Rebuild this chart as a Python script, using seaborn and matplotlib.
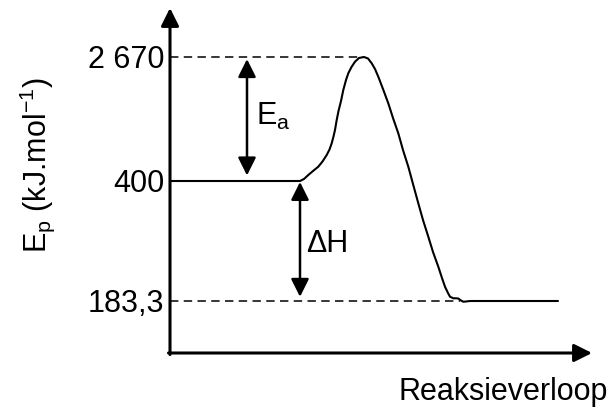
import numpy as np
import pandas as pd
import matplotlib
matplotlib.use("Agg")
import matplotlib.pyplot as plt
import seaborn as sns

# ---------------- data ----------------
level_values = [183.3, 400, 2670]
level_labels = ["183,3", "400", "2 670"]

# reaction progress (arbitrary units) and potential energy (kJ/mol)
progress = [0.00, 1.30, 1.34, 1.383, 1.43, 1.483, 1.525, 1.567, 1.595, 1.617, 1.635,
            1.65, 1.667, 1.685, 1.71, 1.733, 1.76, 1.783, 1.815, 1.85, 1.89, 1.94,
            1.98, 2.017, 2.05, 2.083, 2.13, 2.183, 2.23, 2.283, 2.33, 2.383, 2.43,
            2.483, 2.53, 2.583, 2.63, 2.683, 2.72, 2.75, 2.78, 2.80, 2.833,
            2.86, 2.883, 2.91, 2.933, 2.96, 3.00, 3.88]
energy = [400, 400, 437, 510, 583, 662, 757, 876, 977, 1090, 1215,
          1334, 1517, 1681, 1864, 2066, 2249, 2372, 2487, 2584, 2652, 2670,
          2643, 2555, 2450, 2309, 2084, 1822, 1553, 1273, 967, 662, 394.6,
          359.7, 329.6, 299.4, 271.8, 245.2, 224.8, 209.1, 197.7, 191.1, 188.2,
          188.2, 187.8, 184.2, 182.0, 182.4, 183.3, 183.3]

ea_x = 0.77          # position of the Ea arrow
dh_x = 1.30          # position of the ΔH arrow
peak_x = 1.93        # end of upper dashed line
product_x = 2.90     # end of lower dashed line

df = pd.DataFrame({"progress": progress, "energy": energy})

# ---------------- style ----------------
sns.set_style("white")
plt.rcParams["font.family"] = ["Liberation Sans", "DejaVu Sans"]
plt.rcParams["mathtext.fontset"] = "custom"
plt.rcParams["mathtext.rm"] = "Liberation Sans"
plt.rcParams["mathtext.it"] = "Liberation Sans:italic"
for k in ["text.color", "axes.labelcolor", "xtick.color", "ytick.color"]:
    plt.rcParams[k] = "black"
FS = 22

# schematic (non-linear) energy axis: piecewise linear between the levels
seg = [0.0, 120.0, 244.0]
def fwd(e):
    e = np.asarray(e, dtype=float)
    return np.where(e < 400, (e - 183.3) / (400 - 183.3) * seg[1],
                    seg[1] + (e - 400) / (2670 - 400) * (seg[2] - seg[1]))
def inv(p):
    p = np.asarray(p, dtype=float)
    return np.where(p < seg[1], 183.3 + p / seg[1] * (400 - 183.3),
                    400 + (p - seg[1]) / (seg[2] - seg[1]) * (2670 - 400))

fig = plt.figure(figsize=(6.12, 4.07), dpi=100)
ax = fig.add_axes([170 / 612, 1 - 353 / 407, 422 / 612, 345 / 407])

sns.lineplot(data=df, x="progress", y="energy", color="black", linewidth=1.5,
             estimator=None, ax=ax)

ax.set_yscale("function", functions=(fwd, inv))
ax.set_xlim(0, 4.22)
ax.set_ylim(float(inv(-52)), float(inv(293)))

# dashed reference lines
ax.plot([0, peak_x], [level_values[2]] * 2, color="black", lw=1.1, dashes=(5.5, 3.5))
ax.plot([0, product_x], [level_values[0]] * 2, color="black", lw=1.1, dashes=(5.5, 3.5))

# axes as arrows
for s in ax.spines.values():
    s.set_visible(False)
ax.annotate("", xy=(0, 1), xytext=(0, -0.0045), xycoords="axes fraction",
            arrowprops=dict(arrowstyle="-|>,head_length=0.4,head_width=0.2",
                            mutation_scale=27, lw=2.2, color="black",
                            shrinkA=0, shrinkB=0))
ax.annotate("", xy=(1, 0), xytext=(-0.0035, 0), xycoords="axes fraction",
            arrowprops=dict(arrowstyle="-|>,head_length=0.4,head_width=0.2",
                            mutation_scale=27, lw=2.2, color="black",
                            shrinkA=0, shrinkB=0))

# double arrows
ax.annotate("", xy=(ea_x, level_values[1]), xytext=(ea_x, level_values[2]),
            arrowprops=dict(arrowstyle="<|-|>,head_length=0.4,head_width=0.2",
                            mutation_scale=27, lw=1.8, color="black",
                            shrinkA=1.5, shrinkB=4))
ax.annotate("", xy=(dh_x, level_values[0]), xytext=(dh_x, level_values[1]),
            arrowprops=dict(arrowstyle="<|-|>,head_length=0.4,head_width=0.2",
                            mutation_scale=27, lw=1.8, color="black",
                            shrinkA=0.7, shrinkB=3))

ax.text(0.86, 1425, r"$\mathregular{E_a}$", fontsize=FS, ha="left", va="baseline")
ax.text(1.365, 271.8, "ΔH", fontsize=FS, ha="left", va="baseline")

ax.set_xticks([])
ax.set_yticks(level_values, labels=level_labels)
ax.tick_params(axis="y", length=0, pad=4, labelsize=FS)

ax.set_ylabel(r"$\mathregular{E_p}$ (kJ.mol$\mathregular{^{-1}}$)", fontsize=FS, va="center")
ax.yaxis.set_label_coords((37 - 170) / 422, (353 - 165) / 345)
ax.set_xlabel("Reaksieverloop", fontsize=FS, ha="right", va="baseline")
ax.xaxis.set_label_coords(1.038, -0.136)

fig.savefig("out.png", dpi=100)
